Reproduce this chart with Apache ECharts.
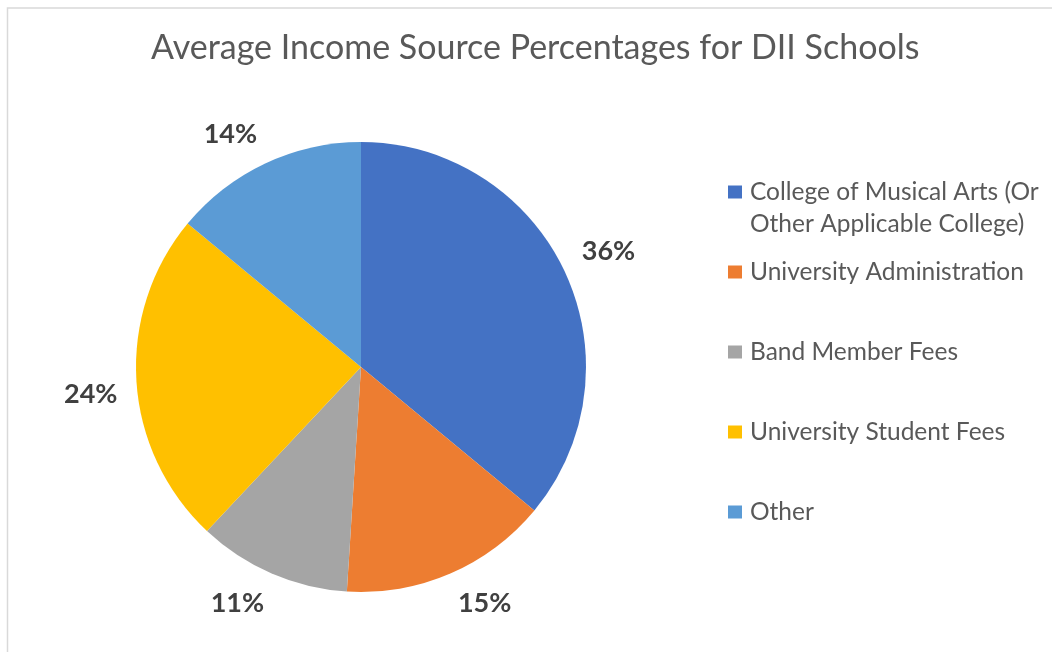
<!DOCTYPE html>
<html>
<head>
<meta charset="utf-8">
<style>
  html, body { margin: 0; padding: 0; background: #ffffff; }
  #chart { width: 1052px; height: 652px; }
</style>
<script src="https://cdn.jsdelivr.net/npm/echarts@6/dist/echarts.min.js"></script>
</head>
<body>
<div id="chart"></div>
<script>
// Income sources and their average share (%)
const categories = [
  'College of Musical Arts (Or\nOther Applicable College)',
  'University Administration',
  'Band Member Fees',
  'University Student Fees',
  'Other'
];
const shares = [36, 15, 11, 24, 14];
const sliceColors = ['#4472C4', '#ED7D31', '#A5A5A5', '#FFC000', '#5B9BD5'];
const titleText = 'Average Income Source Percentages for DII Schools';

// Pie geometry (pixels)
const PIE_CENTER = [361, 367];
const PIE_RADIUS = 225;
const LABEL_RING = 244;          // label corner sits on this ring
const LEGEND_ROWS = [192, 272, 352, 432, 512]; // icon centre y of each legend row
const LEGEND_LINE = 32;

const total = shares.reduce((a, b) => a + b, 0);
const startShare = shares.map((v, i) => shares.slice(0, i).reduce((a, b) => a + b, 0));

const chart = echarts.init(document.getElementById('chart'), null, { renderer: 'canvas' });

// One legend per row so each row can sit at its own height.
// Multi-line names get blank lines above so the icon stays beside the first line.
const legends = categories.map((name, i) => {
  const lines = name.split('\n').length;
  const blank = '\n'.repeat(lines - 1);
  const totalLines = lines * 2 - 1;
  return {
    data: [name],
    orient: 'vertical',
    left: 728,
    top: LEGEND_ROWS[i] - totalLines * LEGEND_LINE / 2,
    padding: 0,
    selectedMode: false,
    icon: 'rect',
    itemWidth: 14,
    itemHeight: 13,
    formatter: (n) => blank + n,
    textStyle: {
      fontFamily: 'Lato',
      fontSize: 24.5,
      color: '#595959',
      lineHeight: LEGEND_LINE,
      padding: [0, 0, 0, 3]
    }
  };
});

chart.setOption({
  backgroundColor: '#ffffff',
  animation: false,
  title: {
    text: titleText,
    left: 151,
    top: 31,
    padding: 0,
    textStyle: {
      fontFamily: 'Lato',
      fontSize: 34,
      fontWeight: 'normal',
      color: '#595959'
    }
  },
  legend: legends,
  graphic: [{
    type: 'rect',
    silent: true,
    shape: { x: 7.5, y: 8, width: 1200, height: 800 },
    style: { fill: 'none', stroke: '#d9d9d9', lineWidth: 1.5 }
  }],
  series: [{
    type: 'pie',
    center: PIE_CENTER,
    radius: PIE_RADIUS,
    startAngle: 90,
    clockwise: true,
    avoidLabelOverlap: false,
    data: categories.map((name, i) => ({
      name: name,
      value: shares[i],
      itemStyle: { color: sliceColors[i] }
    })),
    itemStyle: { borderWidth: 0 },
    label: {
      show: true,
      position: 'outside',
      formatter: '{c}%',
      fontFamily: 'Lato',
      fontWeight: 'bold',
      fontSize: 27,
      lineHeight: 24,
      color: '#404040'
    },
    labelLine: { show: false },
    emphasis: { disabled: true },
    // Outside-end placement: the label corner nearest the pie sits on a ring along the slice's mid-angle
    labelLayout: function (p) {
      const i = p.dataIndex;
      const mid = (startShare[i] + shares[i] / 2) / total * Math.PI * 2;
      const dx = Math.sin(mid);
      const dy = -Math.cos(mid);
      return {
        x: PIE_CENTER[0] + LABEL_RING * dx,
        y: PIE_CENTER[1] + LABEL_RING * dy,
        align: dx >= 0 ? 'left' : 'right',
        verticalAlign: dy >= 0 ? 'top' : 'bottom'
      };
    }
  }]
});
</script>
</body>
</html>
